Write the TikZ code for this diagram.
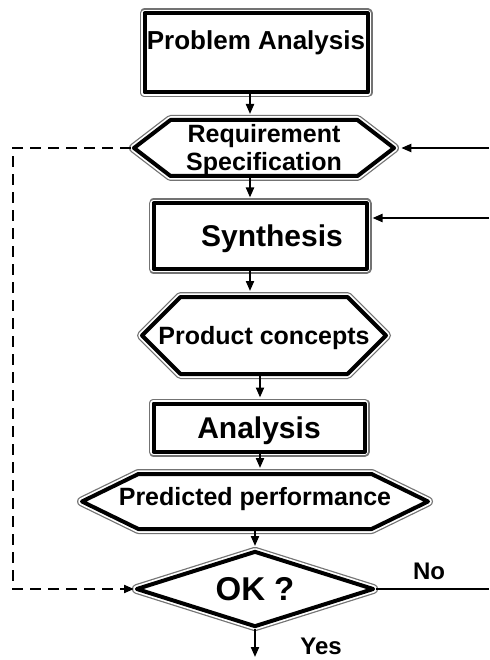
\documentclass[tikz,border=0pt]{standalone}
\usepackage{fontspec}
\setmainfont{Liberation Sans}
\usetikzlibrary{arrows.meta,shapes.geometric,shapes.symbols}

\tikzset{
  frame/.style={draw, line width=4pt, line join=round, fill=white,
    preaction={draw, line width=10pt, line join=round, black!55},
    preaction={draw, line width=7.5pt, line join=round, white},
    inner sep=0pt, align=center, text height=18pt, text depth=0pt,
    font=\bfseries\fontsize{25}{28}\selectfont},
  bigtext/.style={text height=21.6pt, font=\bfseries\fontsize{30}{34}\selectfont},
  stepbox/.style={frame, rectangle},
  hexbox/.style={frame, signal, signal to=west and east},
  decision/.style={frame, diamond},
  flow/.style={line width=2pt, -{Triangle[length=10pt,width=8pt]}},
  loopback/.style={line width=2pt, dash pattern=on 11pt off 7pt},
  tag/.style={inner sep=0pt, text height=17pt, text depth=0pt,
    font=\bfseries\fontsize{24}{28}\selectfont},
}

\begin{document}
\begin{tikzpicture}[x=1pt, y=-1pt]
\useasboundingbox (0,0) rectangle (489,660);

% the design loop, top to bottom
\node[stepbox, minimum width=223pt, minimum height=79pt, text depth=25pt,
  font=\bfseries\fontsize{26}{30}\selectfont] (pa) at (256,53) {Problem Analysis};
\node[hexbox, minimum width=260pt, minimum height=56pt, text height=46pt,
  signal pointer angle=75] (req) at (264,148) {Requirement\\Specification};
\node[stepbox, bigtext, minimum width=213pt, minimum height=65pt] (syn) at (260,236)
  {\hspace*{24pt}Synthesis};
% text runs over the slanted sides, so keep it out of the shape size
\node[hexbox, minimum width=244pt, minimum height=77pt,
  signal pointer angle=90] (pc) at (264,335.5) {\makebox[0pt]{Product concepts}};
\node[stepbox, bigtext, minimum width=211pt, minimum height=48pt] (ana) at (259,427.5)
  {Analysis};
\node[hexbox, minimum width=346pt, minimum height=55pt, text depth=10pt,
  signal pointer angle=52] (pp) at (255,501.5) {\makebox[0pt]{Predicted performance}};
\node[decision, minimum width=238pt, minimum height=76pt, aspect=3,
  text height=23.8pt, font=\bfseries\fontsize{33}{36}\selectfont] (ok) at (255,589) {OK ?};

% free ends
\coordinate (inreq) at (489,148);
\coordinate (insyn) at (489,218);
\coordinate (lft) at (13,0);
\coordinate (rgt) at (489,0);
\coordinate (done) at (258,657);

% vertical flow
\draw[flow, shorten >=4pt] ([xshift=-6pt]pa.south) -- ([xshift=-6pt]pa.south |- req.north);
\draw[flow, shorten >=4pt] ([xshift=-14pt]req.south) -- ([xshift=-14pt]req.south |- syn.north);
\draw[flow, shorten >=4pt] ([xshift=-10pt]syn.south) -- ([xshift=-10pt]syn.south |- pc.north);
\draw[flow, shorten >=4pt] ([xshift=-4pt]pc.south) -- ([xshift=-4pt]pc.south |- ana.north);
\draw[flow, shorten >=4pt] ([xshift=1pt]ana.south) -- ([xshift=1pt]ana.south |- pp.north);
\draw[flow, shorten >=3pt] (pp.south) -- (ok.north);
\draw[flow] (ok.south) -- (ok.south |- done);

% feedback
\draw[flow, shorten >=4pt] (inreq) -- (req.east);
\draw[flow, shorten >=4pt] (insyn) -- (syn.east |- insyn);
\draw[line width=2pt] (ok.east) -- (ok.east -| rgt);
\draw[loopback, -{Triangle[length=10pt,width=8pt]}]
  (req.west) -- (req.west -| lft) -- (ok.west -| lft) -- (ok.west);

\node[tag] (no) at (429,571) {No};
\node[tag] (yes) at (321,646) {Yes};
\end{tikzpicture}
\end{document}
